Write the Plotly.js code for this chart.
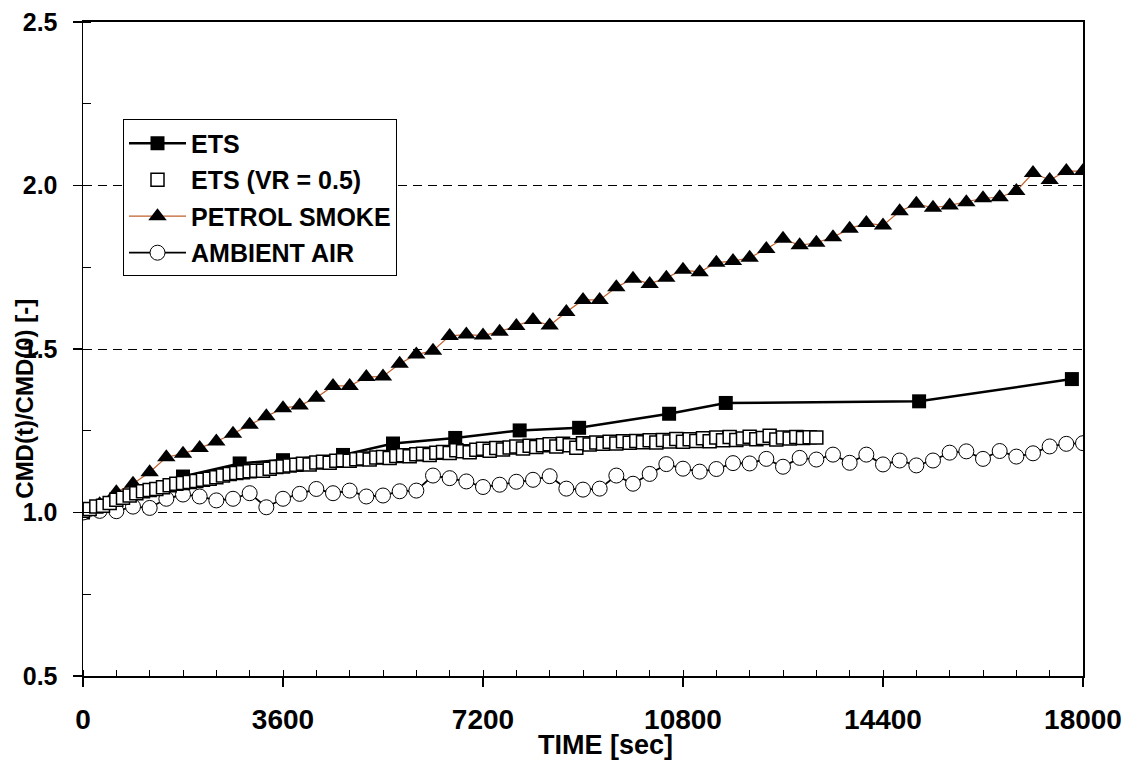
<!DOCTYPE html>
<html>
<head>
<meta charset="utf-8">
<script src="https://cdn.plot.ly/plotly-3.0.1.min.js"></script>
<style>html,body{margin:0;padding:0;background:#fff;}#chart{width:1127px;height:761px;}</style>
</head>
<body>
<div id="chart"></div>
<script>
// ---- Data ----
const etsTime = [0, 1800, 2820, 3600, 4680, 5580, 6700, 7860, 8930, 10550, 11570, 15050, 17800];
const etsValue = [1.000, 1.110, 1.150, 1.160, 1.176, 1.211, 1.228, 1.251, 1.259, 1.302, 1.335, 1.340, 1.408];

const vrTime = [0,120,240,360,480,600,720,840,960,1080,1200,1320,1440,1560,1680,1800,1920,2040,2160,2280,2400,2520,2640,2760,2880,3000,3120,3240,3360,3480,3600,3720,3840,3960,4080,4200,4320,4440,4560,4680,4800,4920,5040,5160,5280,5400,5520,5640,5760,5880,6000,6120,6240,6360,6480,6600,6720,6840,6960,7080,7200,7320,7440,7560,7680,7800,7920,8040,8160,8280,8400,8520,8640,8760,8880,9000,9120,9240,9360,9480,9600,9720,9840,9960,10080,10200,10320,10440,10560,10680,10800,10920,11040,11160,11280,11400,11520,11640,11760,11880,12000,12120,12240,12360,12480,12600,12720,12840,12960,13080,13200];
const vrValue = [1.005,1.011,1.018,1.021,1.029,1.039,1.045,1.052,1.059,1.065,1.069,1.072,1.077,1.083,1.088,1.090,1.093,1.096,1.100,1.103,1.108,1.113,1.118,1.121,1.123,1.126,1.128,1.128,1.134,1.139,
1.141,1.144,1.146,1.149,1.147,1.153,1.155,1.152,1.158,1.160,
1.158,1.163,1.165,1.162,1.168,1.170,1.167,1.173,1.175,1.172,
1.178,1.180,1.176,1.183,1.185,1.182,1.190,1.187,1.184,1.192,
1.195,1.189,1.197,1.193,1.199,1.202,1.196,1.204,1.200,1.206,
1.209,1.202,1.210,1.206,1.198,1.212,1.208,1.214,1.210,1.216,
1.211,1.218,1.213,1.219,1.215,1.221,1.214,1.222,1.217,1.225,
1.216,1.224,1.219,1.227,1.218,1.229,1.221,1.231,1.222,1.226,
1.232,1.224,1.228,1.235,1.223,1.229,1.226,1.231,1.228,1.230,
1.229];

const time300 = [0,300,600,900,1200,1500,1800,2100,2400,2700,3000,3300,3600,3900,4200,4500,4800,5100,5400,5700,6000,6300,6600,6900,7200,7500,7800,8100,8400,8700,9000,9300,9600,9900,10200,10500,10800,11100,11400,11700,12000,12300,12600,12900,13200,13500,13800,14100,14400,14700,15000,15300,15600,15900,16200,16500,16800,17100,17400,17700,18000];

const petrolValue = [1.000,1.025,1.062,1.088,1.123,1.169,1.180,1.197,1.217,1.241,
1.268,1.294,1.319,1.327,1.351,1.387,1.387,1.414,1.416,1.455,
1.483,1.495,1.540,1.544,1.541,1.553,1.570,1.589,1.572,1.613,
1.650,1.650,1.689,1.715,1.699,1.718,1.742,1.735,1.764,1.769,
1.779,1.806,1.837,1.817,1.825,1.842,1.868,1.885,1.878,1.921,
1.944,1.932,1.939,1.949,1.961,1.964,1.983,2.038,2.017,2.044,
2.044];

const ambientValue = [1.000,1.005,1.004,1.018,1.014,1.042,1.055,1.049,1.037,1.042,
1.059,1.016,1.042,1.057,1.072,1.059,1.067,1.049,1.052,1.065,
1.067,1.113,1.105,1.095,1.078,1.085,1.094,1.100,1.111,1.073,
1.070,1.073,1.113,1.088,1.118,1.148,1.134,1.125,1.133,1.151,
1.150,1.164,1.140,1.167,1.162,1.177,1.152,1.177,1.147,1.159,
1.144,1.159,1.183,1.187,1.164,1.188,1.171,1.181,1.202,1.210,
1.212];

const seriesNames = ['ETS', 'ETS (VR = 0.5)', 'PETROL SMOKE', 'AMBIENT AIR'];
const xTickVals = [0, 3600, 7200, 10800, 14400, 18000];
const xTickText = ['0', '3600', '7200', '10800', '14400', '18000'];
const yTickVals = [0.5, 1.0, 1.5, 2.0, 2.5];
const yTickText = ['0.5', '1.0', '1.5', '2.0', '2.5'];
const xTitle = 'TIME [sec]';
const yTitle = 'CMD(t)/CMD(0) [-]';

// ---- Chart ----
const FONT = 'Liberation Sans, Arial, sans-serif';

const traces = [
  {
    x: etsTime, y: etsValue, name: seriesNames[0], type: 'scatter', mode: 'lines+markers',
    line: {color: '#000000', width: 2.5},
    marker: {symbol: 'square', size: 14, color: '#000000'},
    legendrank: 1, legendgroup: 'a'
  },
  {
    x: time300, y: petrolValue, name: seriesNames[2], type: 'scatter', mode: 'lines+markers',
    line: {color: '#c0602c', width: 1.2},
    marker: {symbol: 'triangle-up', size: 16, color: '#000000'},
    legendrank: 3, legendgroup: 'c'
  },
  {
    x: time300, y: ambientValue, name: seriesNames[3], type: 'scatter', mode: 'lines+markers',
    line: {color: '#000000', width: 1.8},
    marker: {symbol: 'circle', size: 15, color: '#ffffff', line: {color: '#000000', width: 1}},
    legendrank: 4, legendgroup: 'd'
  },
  {
    x: vrTime, y: vrValue, name: seriesNames[1], type: 'scatter', mode: 'markers',
    marker: {symbol: 'square', size: 13, color: '#ffffff', line: {color: '#000000', width: 1.5}},
    legendrank: 2, legendgroup: 'b'
  }
];

const layout = {
  width: 1127, height: 761,
  margin: {l: 83, r: 44, t: 22, b: 85},
  paper_bgcolor: '#ffffff', plot_bgcolor: '#ffffff',
  font: {family: FONT, color: '#000000', weight: 'bold'},
  showlegend: true,
  legend: {
    x: 0.04, y: 0.851, xanchor: 'left', yanchor: 'top',
    bgcolor: '#ffffff', bordercolor: '#000000', borderwidth: 1,
    font: {family: FONT, size: 25, color: '#000000', weight: 'bold'},
    itemwidth: 57, tracegroupgap: 1, traceorder: 'grouped'
  },
  xaxis: {
    range: [0, 18000], tickmode: 'array', tickvals: xTickVals, ticktext: xTickText,
    ticks: 'outside', ticklen: 9, tickwidth: 1.5, tickcolor: '#000',
    minor: {dtick: 600, ticks: 'inside', ticklen: 6, tickwidth: 1, tickcolor: '#000', showgrid: false},
    showline: true, linecolor: '#000', linewidth: 2, mirror: true,
    showgrid: false, zeroline: false,
    tickfont: {family: FONT, size: 28, weight: 'bold'},
    ticklabelstandoff: 8
  },
  yaxis: {
    range: [0.5, 2.5], tickmode: 'array', tickvals: yTickVals, ticktext: yTickText,
    ticks: 'outside', ticklen: 9, tickwidth: 1.5, tickcolor: '#000',
    minor: {dtick: 0.25, ticks: 'inside', ticklen: 8, tickwidth: 1, tickcolor: '#000', showgrid: false},
    showline: true, linecolor: '#000', linewidth: 1.5, mirror: true,
    showgrid: true, gridcolor: '#000', gridwidth: 1, griddash: '9px,6px',
    zeroline: false,
    tickfont: {family: FONT, size: 25, weight: 'bold'},
    ticklabelstandoff: 10
  },
  annotations: [
    {
      text: yTitle, textangle: -90,
      xref: 'paper', yref: 'paper', x: -0.058, y: 0.424,
      xanchor: 'center', yanchor: 'middle', showarrow: false,
      font: {family: FONT, size: 24, color: '#000', weight: 'bold'}
    },
    {
      text: xTitle,
      xref: 'paper', yref: 'paper', x: 0.522, y: -0.106,
      xanchor: 'center', yanchor: 'middle', showarrow: false,
      font: {family: FONT, size: 27, color: '#000', weight: 'bold'}
    }
  ]
};

Plotly.newPlot('chart', traces, layout, {displayModeBar: false, staticPlot: true});
</script>
</body>
</html>
